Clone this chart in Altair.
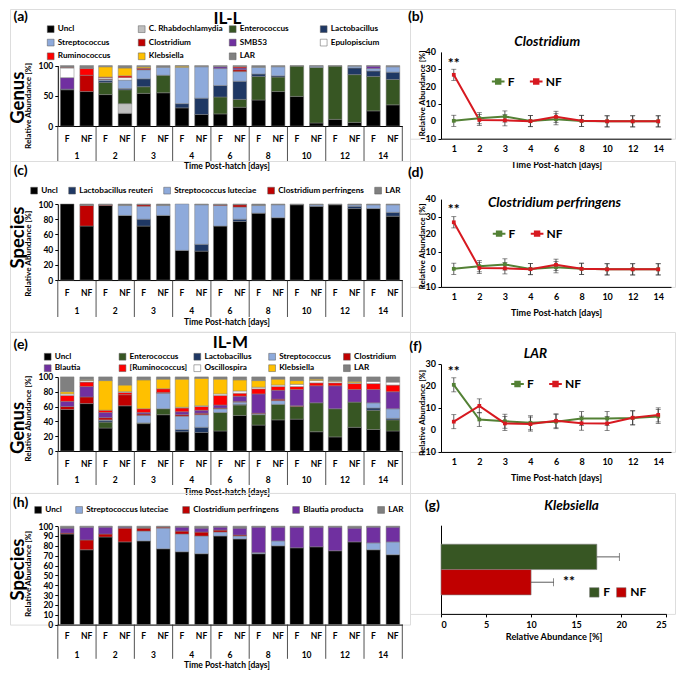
import altair as alt
import pandas as pd

# ---------------- data ----------------
DAYS = ["1", "2", "3", "4", "6", "8", "10", "12", "14"]
GROUPS = ["F", "NF"]
# bar order in every stacked panel: day1 F, day1 NF, day2 F, day2 NF, ...

# (a) IL-L, genus level
A_CATS = ["Uncl", "C. Rhabdochlamydia", "Enterococcus", "Lactobacillus",
          "Streptococcus", "Clostridium", "SMB53", "Epulopiscium",
          "Ruminococcus", "Klebsiella", "LAR"]
A_COLORS = ["#000000", "#bfbfbf", "#375623", "#1f3864", "#8eaadb", "#c00000",
            "#7030a0", "#ffffff", "#ff0000", "#ffc000", "#808080"]
A_UNCL = [60, 57, 52, 21, 54, 55, 30, 19, 20, 31, 43, 57, 49, 5, 11, 6, 25, 35]
A_RHAB = [0, 0, 0, 16, 0, 0, 0, 0, 0, 0, 0, 0, 0, 0, 0, 0, 0, 0]
A_ENTE = [0, 0, 20, 23, 11, 29, 0, 0, 28, 13, 39, 24, 50, 92, 88, 79, 57, 42]
A_LACT = [1, 0, 3, 2, 13, 0, 7, 27, 19, 30, 4, 2, 0, 0, 0, 11, 9, 12]
A_STRE = [0, 0, 2, 14, 15, 13, 60, 52, 28, 16, 11, 15, 0, 2, 0, 3, 4, 9]
A_CLOS = [0, 27, 1, 0, 2, 0, 0, 0, 0, 3, 0, 0, 0, 0, 0, 0, 0, 0]
A_SMB5 = [19, 0, 0, 0, 0, 0, 0, 0, 3, 3, 0, 0, 0, 0, 0, 0, 4, 0]
A_EPUL = [16, 0, 2, 4, 0, 0, 0, 0, 0, 0, 0, 0, 0, 0, 0, 0, 0, 0]
A_RUMI = [1, 11, 1, 3, 1, 0, 0, 0, 0, 2, 0, 0, 0, 0, 0, 0, 0, 0]
A_KLEB = [0, 0, 17, 13, 2, 0, 2, 0, 0, 0, 0, 0, 0, 0, 0, 0, 0, 0]
A_LAR = [3, 5, 2, 4, 2, 3, 1, 2, 2, 2, 3, 2, 1, 1, 1, 1, 1, 2]

# (c) IL-L, species level
C_CATS = ["Uncl", "Lactobacillus reuteri", "Streptococcus luteciae",
          "Clostridium perfringens", "LAR"]
C_COLORS = ["#000000", "#1f3864", "#8eaadb", "#c00000", "#808080"]
C_UNCL = [100, 71, 98, 85, 71, 85, 39, 38, 71, 77, 88, 82, 99, 97, 99, 94, 94, 84]
C_LREU = [0, 0, 0, 0, 9, 0, 0, 9, 0, 3, 0, 0, 0, 0, 0, 3, 0, 5]
C_SLUT = [0, 0, 0, 13, 17, 13, 61, 52, 27, 16, 10, 17, 0, 2, 0, 2, 5, 10]
C_CPER = [0, 27, 1, 0, 2, 0, 0, 0, 1, 3, 0, 0, 0, 0, 0, 0, 0, 0]
C_LAR = [0, 2, 1, 2, 1, 2, 0, 1, 1, 1, 2, 1, 1, 1, 1, 1, 1, 1]

# (e) IL-M, genus level
E_CATS = ["Uncl", "Enterococcus", "Lactobacillus", "Streptococcus", "Clostridium",
          "Blautia", "[Ruminococcus]", "Oscillospira", "Klebsiella", "LAR"]
E_COLORS = ["#000000", "#375623", "#1f3864", "#8eaadb", "#c00000",
            "#7030a0", "#ff0000", "#ffffff", "#ffc000", "#808080"]
E_UNCL = [56, 64, 31, 61, 37, 49, 26, 25, 27, 48, 35, 42, 43, 26, 19, 32, 29, 27]
E_ENTE = [0, 0, 8, 0, 1, 8, 0, 0, 25, 14, 14, 21, 17, 39, 38, 34, 26, 15]
E_LACT = [0, 0, 2, 0, 0, 0, 3, 7, 0, 1, 0, 0, 0, 0, 0, 0, 3, 2]
E_STRE = [0, 0, 1, 0, 10, 21, 18, 17, 5, 3, 1, 5, 0, 0, 0, 0, 7, 13]
E_CLOS = [4, 9, 3, 15, 2, 1, 2, 2, 1, 1, 1, 2, 1, 0, 0, 0, 0, 0]
E_BLAU = [7, 14, 7, 0, 2, 0, 4, 4, 4, 7, 26, 12, 22, 23, 31, 17, 18, 23]
E_RUMI = [8, 6, 3, 3, 5, 5, 5, 5, 13, 4, 7, 5, 4, 4, 4, 8, 8, 9]
E_OSCI = [2, 2, 0, 1, 0, 0, 1, 1, 2, 3, 2, 2, 3, 3, 2, 1, 3, 4]
E_KLEB = [3, 1, 40, 9, 39, 13, 38, 37, 20, 15, 9, 8, 5, 2, 1, 2, 0, 0]
E_LAR = [20, 4, 5, 11, 4, 3, 3, 2, 3, 4, 5, 3, 5, 3, 5, 6, 6, 7]

# (h) IL-M, species level
H_CATS = ["Uncl", "Streptococcus luteciae", "Clostridium perfringens",
          "Blautia producta", "LAR"]
H_COLORS = ["#000000", "#8eaadb", "#c00000", "#7030a0", "#808080"]
H_UNCL = [92, 76, 89, 84, 85, 77, 74, 72, 90, 87, 72, 80, 78, 79, 75, 84, 76, 71]
H_SLUT = [0, 0, 0, 0, 10, 21, 18, 18, 4, 3, 1, 5, 0, 0, 0, 0, 7, 13]
H_CPER = [1, 10, 3, 14, 3, 1, 3, 4, 2, 1, 0, 0, 0, 0, 0, 0, 0, 0]
H_BPRO = [5, 13, 7, 1, 0, 0, 4, 4, 3, 7, 26, 14, 21, 20, 24, 14, 16, 15]
H_LAR = [2, 1, 1, 1, 2, 1, 1, 2, 1, 2, 1, 1, 1, 1, 1, 2, 1, 1]

# (b) Clostridium, (d) Clostridium perfringens, (f) LAR : mean and error per day
B_F = [0.3, 1.8, 2.8, 0.2, 1.2, 0.2, 0.0, 0.0, 0.0]
B_NF = [26.8, 0.8, 0.6, 0.1, 2.6, 0.3, 0.0, 0.0, 0.0]
B_ERR_F = [3.2, 3.2, 3.2, 3.2, 3.2, 3.2, 3.2, 3.2, 3.2]
B_ERR_NF = [3.2, 3.2, 3.2, 3.2, 3.2, 3.2, 3.2, 3.2, 3.2]
D_F = [0.3, 1.8, 2.8, 0.2, 1.2, 0.3, 0.0, 0.0, 0.0]
D_NF = [26.8, 0.8, 0.6, 0.1, 2.6, 0.3, 0.0, 0.0, 0.0]
D_ERR_F = [3.2, 3.2, 3.2, 3.2, 3.2, 3.2, 3.2, 3.2, 3.2]
D_ERR_NF = [3.2, 3.2, 3.2, 3.2, 3.2, 3.2, 3.2, 3.2, 3.2]
F_F = [20.6, 4.8, 4.0, 3.3, 3.8, 5.2, 5.2, 5.5, 6.2]
F_NF = [3.8, 11.0, 3.0, 2.7, 4.2, 3.1, 3.0, 5.6, 6.9]
F_ERR_F = [3.2, 3.2, 3.2, 3.2, 3.2, 3.2, 3.2, 3.2, 3.2]
F_ERR_NF = [3.2, 3.2, 3.2, 3.2, 3.2, 3.2, 3.2, 3.2, 3.2]

# (g) Klebsiella
G_VALS = [17.3, 10.0]
G_ERR = [2.5, 2.5]

LINE_COLORS = ["#538135", "#d71920"]
BAR_COLORS = ["#375623", "#c00000"]

# ---------------- layout helpers ----------------
FONT = "Lato"
LEFT_W, RIGHT_W = 400, 265
XL = [47.8, 392.3]
XR = [31.0, 261.0]
XG_END = 256.2
NUM_LABEL = "datum.value"


def note(text, x, y, size, angle=0, style="normal", weight="bold"):
    return alt.Chart(pd.DataFrame({"n": [0]})).mark_text(
        text=text, font=FONT, fontSize=size, fontWeight=weight, fontStyle=style,
        angle=angle, align="center", baseline="middle", color="black"
    ).encode(x=alt.value(x), y=alt.value(y))


def stacked_panel(cats, colors, values, p):
    rows = []
    for ci, c in enumerate(cats):
        for bi, v in enumerate(values[ci]):
            if v > 0:
                rows.append({"day": DAYS[bi // 2], "grp": GROUPS[bi % 2],
                             "cat": c, "idx": ci, "val": v})
    df = pd.DataFrame(rows)
    y0, y100 = p["yr"]
    xscale = alt.Scale(domain=DAYS, range=XL, paddingInner=0, paddingOuter=0)
    xaxis = alt.Axis(title=None, labels=False, ticks=False, grid=False,
                     domainColor="black", domainWidth=1, offset=y0 - p["h"])

    def xenc(bp=None):
        if bp is None:
            return alt.X("day:N", scale=xscale, axis=xaxis)
        return alt.X("day:N", scale=xscale, axis=xaxis, bandPosition=bp)

    xoff = alt.XOffset("grp:N", scale=alt.Scale(domain=GROUPS, paddingInner=0.3,
                                                 paddingOuter=0.13))
    yaxis = alt.Axis(values=p["ticks"], title="Relative Abundance [%]",
                     offset=-XL[0], titleX=-29.5, titleY=p["yt"], titleAngle=270,
                     titleAlign="center", titleBaseline="middle", titleFont=FONT,
                     titleFontSize=8.2, titleFontWeight="bold", titleColor="black",
                     labelFont=FONT, labelFontSize=8.5, labelFontWeight="bold",
                     labelColor="black", labelPadding=2, tickSize=3, labelOverlap=False,
                     labelExpr=NUM_LABEL,
                     tickColor="black", domainColor="black", grid=False)
    leg = alt.Legend(title=None, orient="none", direction="horizontal",
                     symbolType="square", symbolSize=46, symbolStrokeColor="#595959",
                     symbolStrokeWidth=0.5, labelFont=FONT, labelFontSize=8.2,
                     labelFontWeight="bold", labelColor="black", labelOffset=3,
                     labelLimit=300, padding=0, **p["legend"])
    bars = alt.Chart(df).mark_bar(stroke="#7f7f7f", strokeWidth=0.5).encode(
        x=xenc(), xOffset=xoff,
        y=alt.Y("val:Q", stack="zero",
                scale=alt.Scale(domain=[0, 100], range=[y0, y100], nice=False),
                axis=yaxis),
        color=alt.Color("cat:N", scale=alt.Scale(domain=cats, range=colors),
                        sort=cats, legend=leg),
        order=alt.Order("idx:Q", sort="ascending"),
    )
    ticks_df = pd.DataFrame([(d, g) for d in DAYS for g in GROUPS], columns=["day", "grp"])
    day_df = pd.DataFrame({"day": DAYS})
    txt = dict(font=FONT, fontSize=8.5, fontWeight="bold", color="black", baseline="middle")
    fnf = alt.Chart(ticks_df).mark_text(**txt).encode(
        x=xenc(), xOffset=xoff, y=alt.value(p["fnf"]), text="grp:N")
    dlab = alt.Chart(day_df).mark_text(**txt).encode(
        x=xenc(), y=alt.value(p["dayy"]), text="day:N")
    seps = alt.Chart(day_df).mark_rule(color="#262626", strokeWidth=0.8).encode(
        x=xenc(0), y=alt.value(y0), y2=alt.value(p["sep"]))
    sep_end = alt.Chart(day_df.tail(1)).mark_rule(color="#262626", strokeWidth=0.8).encode(
        x=xenc(1), y=alt.value(y0), y2=alt.value(p["sep"]))
    layers = [bars, fnf, dlab, seps, sep_end,
              note(p["label"], 10.7, p["label_y"], 14),
              note(p["side"], 8, p["side_y"], 18.5, angle=270),
              note("Time Post-hatch [days]", 217, p["xt"], 8.5)]
    if "title" in p:
        layers.append(note(p["title"], p["title_xy"][0], p["title_xy"][1], 17))
    return alt.layer(*layers).properties(width=LEFT_W, height=p["h"])


def line_panel(fv, nfv, fe, nfe, p):
    rows = []
    for g, vals, errs in (("F", fv, fe), ("NF", nfv, nfe)):
        for d, v, e in zip(DAYS, vals, errs):
            rows.append({"day": d, "grp": g, "val": v, "lo": v - e, "hi": v + e})
    df = pd.DataFrame(rows)
    xscale = alt.Scale(type="point", domain=DAYS, range=XR, padding=0.5)
    xaxis = alt.Axis(title="Time Post-hatch [days]", labelAngle=0, ticks=False,
                     domainColor="black", labelFont=FONT, labelFontSize=9,
                     labelFontWeight="bold", labelColor="black", titleFont=FONT,
                     titleFontSize=9, titleFontWeight="bold", titleColor="black",
                     labelPadding=6, titlePadding=7, grid=False)
    x = alt.X("day:N", scale=xscale, axis=xaxis)
    yscale = alt.Scale(domain=p["dom"], range=p["yr"], nice=False, zero=False)
    yaxis = alt.Axis(values=p["ticks"], title="Relative Abundance [%]",
                     offset=-XR[0], titleX=-18.6, titleY=p["yt"], titleAngle=270,
                     titleAlign="center", titleBaseline="middle", titleFont=FONT,
                     titleFontSize=8.2, titleFontWeight="bold", titleColor="black",
                     labels=False, tickSize=3,
                     tickColor="black", domainColor="black", grid=False)

    def yenc(f):
        return alt.Y(f"{f}:Q", scale=yscale, axis=yaxis)

    err = alt.Chart(df).mark_rule(color="#333333", strokeWidth=0.8).encode(
        x=x, y=yenc("lo"), y2="hi")
    cap_lo = alt.Chart(df).mark_tick(color="#333333", thickness=0.8, size=5).encode(
        x=x, y=yenc("lo"))
    cap_hi = alt.Chart(df).mark_tick(color="#333333", thickness=0.8, size=5).encode(
        x=x, y=yenc("hi"))
    leg = alt.Legend(title=None, orient="none", direction="horizontal",
                     legendX=p["leg"][0], legendY=p["leg"][1],
                     symbolType="M-1,0H1M-0.35,-0.35H0.35V0.35H-0.35Z",
                     symbolSize=160, symbolStrokeWidth=2, labelFont=FONT,
                     labelFontSize=12, labelFontWeight="bold", labelColor="black",
                     labelOffset=2, columnPadding=11, padding=0)
    line = alt.Chart(df).mark_line(
        strokeWidth=2, point=alt.OverlayMarkDef(shape="square", size=14, filled=True)
    ).encode(x=x, y=yenc("val"),
             color=alt.Color("grp:N", scale=alt.Scale(domain=GROUPS, range=LINE_COLORS),
                             legend=leg))
    # tick labels of the value axis, placed through the same y scale
    ylabels = alt.Chart(pd.DataFrame({"tick": p["ticks"]})).mark_text(
        align="right", baseline="middle", font=FONT, fontSize=9, fontWeight="bold",
        color="black").encode(x=alt.value(XR[0] - 5), y=yenc("tick"),
                              text=alt.Text("tick:Q", format="d"))
    star = alt.Chart(pd.DataFrame({"n": [0]})).mark_text(
        text="**", font=FONT, fontSize=14, fontWeight="bold", color="black",
        baseline="middle").encode(x=alt.datum("1"), y=alt.datum(p["star"]))
    layers = [err, cap_lo, cap_hi, line, ylabels, star,
              note(p["label"], 5.6, p["label_y"], 14),
              note(p["title"], p["title_xy"][0], p["title_xy"][1], 13.5, style="italic")]
    return alt.layer(*layers).properties(width=RIGHT_W, height=p["h"])


def kleb_panel():
    df = pd.DataFrame({"grp": GROUPS, "val": G_VALS,
                       "hi": [v + e for v, e in zip(G_VALS, G_ERR)]})
    yscale = alt.Scale(domain=GROUPS, range=[32.2, 120.9], paddingInner=0, paddingOuter=0.75)
    yaxis = alt.Axis(title=None, labels=False, ticks=False, grid=False,
                     domainColor="black", offset=-XR[0])
    xscale = alt.Scale(domain=[0, 25], range=[XR[0], XG_END], nice=False)
    xaxis = alt.Axis(values=[0, 5, 10, 15, 20, 25], title="Relative Abundance [%]",
                     tickSize=3, tickColor="black", domainColor="black", grid=False,
                     labelFont=FONT, labelFontSize=9, labelFontWeight="bold",
                     labelColor="black", titleFont=FONT, titleFontSize=9.2,
                     titleFontWeight="bold", titleColor="black", labelPadding=4,
                     labelOverlap=False, titlePadding=3)
    y = alt.Y("grp:N", scale=yscale, axis=yaxis)
    leg = alt.Legend(title=None, orient="none", direction="horizontal",
                     legendX=178.3, legendY=93.4, symbolType="square", symbolSize=90,
                     symbolStrokeColor="#7f7f7f", symbolStrokeWidth=0.5,
                     labelFont=FONT, labelFontSize=12, labelFontWeight="bold",
                     labelColor="black", labelOffset=3, columnPadding=5, padding=0)
    bars = alt.Chart(df).mark_bar(stroke="#7f7f7f", strokeWidth=0.6).encode(
        x=alt.X("val:Q", scale=xscale, axis=xaxis), y=y,
        color=alt.Color("grp:N", scale=alt.Scale(domain=GROUPS, range=BAR_COLORS), legend=leg))
    err = alt.Chart(df).mark_rule(color="#333333", strokeWidth=0.8).encode(
        x=alt.X("val:Q", scale=xscale, axis=xaxis), x2="hi", y=y)
    cap = alt.Chart(df).mark_tick(color="#333333", thickness=0.8, size=8).encode(
        x=alt.X("hi:Q", scale=xscale, axis=xaxis), y=y)
    star = alt.Chart(pd.DataFrame({"n": [0]})).mark_text(
        text="**", font=FONT, fontSize=14, fontWeight="bold", color="black",
        baseline="middle").encode(x=alt.datum(14.2), y=alt.datum("NF"))
    return alt.layer(bars, err, cap, star,
                     note("(g)", 22.2, 12.7, 14),
                     note("Klebsiella", 161.6, 12.7, 13.5, style="italic")
                     ).properties(width=RIGHT_W, height=120.9)


panel_a = stacked_panel(A_CATS, A_COLORS,
                        [A_UNCL, A_RHAB, A_ENTE, A_LACT, A_STRE, A_CLOS, A_SMB5,
                         A_EPUL, A_RUMI, A_KLEB, A_LAR],
                        dict(h=152, yr=[117.0, 56.55], ticks=[0, 50, 100], yt=96.5,
                             legend=dict(legendX=36.6, legendY=15.8, columns=4,
                                         gridAlign="all", columnPadding=4, rowPadding=3.7),
                             fnf=129.7, dayy=147.2, sep=152, xt=157.0,
                             label="(a)", label_y=8, side="Genus", side_y=88.7,
                             title="IL-L", title_xy=(217.4, 9.5)))
panel_c = stacked_panel(C_CATS, C_COLORS, [C_UNCL, C_LREU, C_SLUT, C_CPER, C_LAR],
                        dict(h=170.7, yr=[119.05, 43.0], ticks=[0, 20, 40, 60, 80, 100],
                             yt=92.2,
                             legend=dict(legendX=20, legendY=25.3, columnPadding=9),
                             fnf=131.7, dayy=150.3, sep=156, xt=161.0,
                             label="(c)", label_y=9.9, side="Species", side_y=76.6))
panel_e = stacked_panel(E_CATS, E_COLORS,
                        [E_UNCL, E_ENTE, E_LACT, E_STRE, E_CLOS, E_BLAU, E_RUMI,
                         E_OSCI, E_KLEB, E_LAR],
                        dict(h=160.9, yr=[119.0, 44.9], ticks=[0, 20, 40, 60, 80, 100],
                             yt=86.3,
                             legend=dict(legendX=33.6, legendY=20.4, columns=5,
                                         gridAlign="all", columnPadding=4.8, rowPadding=1.7),
                             fnf=131.7, dayy=148.2, sep=153, xt=160.0,
                             label="(e)", label_y=12.7, side="Genus", side_y=96,
                             title="IL-M", title_xy=(220.4, 10.5)))
panel_h = stacked_panel(H_CATS, H_COLORS, [H_UNCL, H_SLUT, H_CPER, H_BPRO, H_LAR],
                        dict(h=131.6, yr=[131.6, 33.15], ticks=list(range(0, 101, 10)),
                             yt=80.4,
                             legend=dict(legendX=24, legendY=12.6, columnPadding=12),
                             fnf=143.3, dayy=161.9, sep=165.8, xt=171.6,
                             label="(h)", label_y=9.8, side="Species", side_y=76.5))

panel_b = line_panel(B_F, B_NF, B_ERR_F, B_ERR_NF,
                     dict(h=129.7, yr=[129.7, 42.9], dom=[-10, 40],
                          ticks=[-10, 0, 10, 20, 30, 40], yt=84, leg=(80.7, 64.9),
                          star=33, label="(b)", label_y=8, title="Clostridium",
                          title_xy=(137.2, 33.2)))
panel_d = line_panel(D_F, D_NF, D_ERR_F, D_ERR_NF,
                     dict(h=125.9, yr=[125.9, 38.1], dom=[-10, 40],
                          ticks=[-10, 0, 10, 20, 30, 40], yt=85, leg=(81.6, 65.0),
                          star=34, label="(d)", label_y=12.3,
                          title="Clostridium perfringens", title_xy=(144.5, 42)))
panel_f = line_panel(F_F, F_NF, F_ERR_F, F_ERR_NF,
                     dict(h=119.95, yr=[119.95, 32.2], dom=[-10, 30],
                          ticks=[-10, 0, 10, 20, 30], yt=80.5, leg=(100, 44.4),
                          star=26.5, label="(f)", label_y=14.7, title="LAR",
                          title_xy=(125.5, 21.5)))
panel_g = kleb_panel()

chart = alt.concat(panel_a, panel_b, panel_c, panel_d, panel_e, panel_f,
                   panel_h, panel_g, columns=2, spacing=0, bounds="flush",
                   align="each").resolve_scale(
    color="independent", x="independent", y="independent").resolve_legend(
    color="independent").properties(padding=0).configure_view(
    strokeWidth=0, stroke="transparent").configure(font=FONT)

chart.save("out.html", embed_options={"renderer": "svg", "actions": False})
